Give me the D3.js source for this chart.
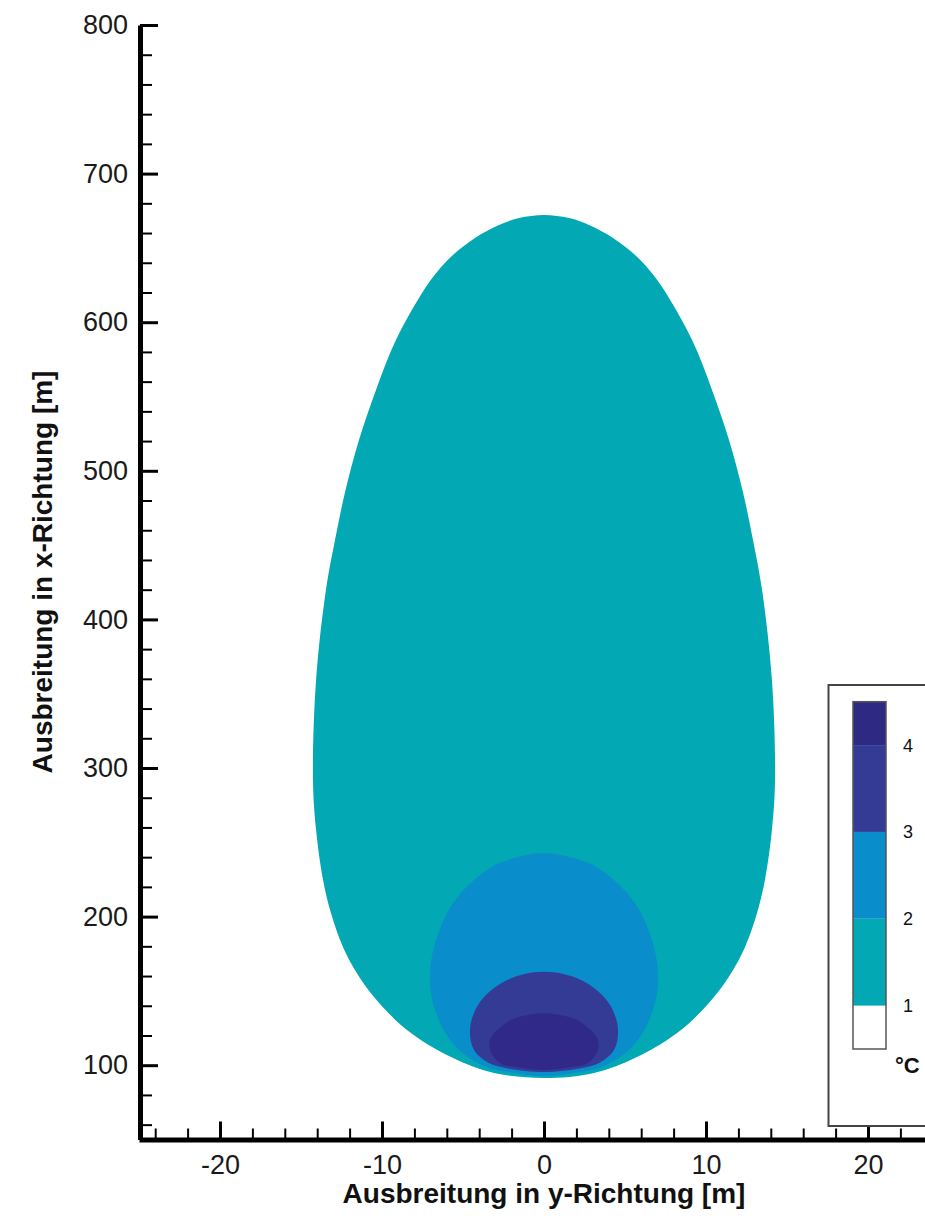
<!DOCTYPE html>
<html>
<head>
<meta charset="utf-8">
<script src="https://d3js.org/d3.v7.min.js"></script>
<style>
  body { margin: 0; background: #fff; }
  svg { display: block; font-family: "Liberation Sans", Arial, Helvetica, sans-serif; }
  .axis text { font-size: 27px; fill: #1a1a1a; }
  .axis .domain { stroke: #000; stroke-width: 5; }
  .axis .tick line { stroke: #000; stroke-width: 3; }
  .minor .tick line { stroke: #000; stroke-width: 2; }
  .minor .domain { display: none; }
</style>
</head>
<body>
<div id="chart"></div>
<script>
var svgWidth = 925;
var svgHeight = 1221;

// contour outlines: [distance along plume (x-Richtung) m, half width (y-Richtung) m]
var contour1 = [[91.4, 0], [94.8, 3.09], [105.5, 5.74], [123.7, 8.46], [145.9, 10.49],
  [164.1, 11.67], [179.5, 12.41], [202.4, 13.15], [224.7, 13.64], [258.4, 14.07],
  [292, 14.26], [359.2, 14.07], [419.8, 13.46], [453.5, 12.9], [487.1, 12.25],
  [520.7, 11.42], [554.4, 10.37], [588, 9.14], [621.7, 7.41], [633.8, 6.6],
  [645.2, 5.62], [656.7, 4.26], [665.4, 2.78], [670.1, 1.54], [672.2, 0]];
var contour2 = [[92.7, 0], [95.4, 2.16], [98.8, 3.58], [112.2, 5.43], [135.1, 6.67],
  [157.3, 7.04], [179.5, 6.79], [202.4, 5.99], [214.5, 5.22], [224.6, 4.32],
  [231.4, 3.52], [236.7, 2.59], [242.8, 0]];
var contour3 = [[95.4, 0], [98.1, 2.35], [101.5, 3.4], [110.2, 4.32], [123.7, 4.57],
  [139.4, 4.14], [151.95, 3.09], [160, 1.67], [162.9, 0]];
var contour4 = [[96.8, 0], [98.8, 1.73], [101.3, 2.69], [110.2, 3.33], [119.2, 3.24],
  [129.3, 2.22], [131.8, 1.73], [134.9, 0]];

var contourColors = ["#02a8b3", "#0a8dcb", "#333b95", "#30298a"];

// legend levels
var legendBreaks = [0.5, 1, 2, 3, 4, 4.5];
var legendColors = ["#ffffff", "#02a8b3", "#0a8dcb", "#333b95", "#2e2a84"];
var legendLabels = [1, 2, 3, 4];

// axis ticks
var xMajorTicks = [-20, -10, 0, 10, 20];
var xMinorTicks = d3.range(-24, 25, 2).filter(d => d % 10 !== 0);
var yMajorTicks = [100, 200, 300, 400, 500, 600, 700, 800];
var yMinorTicks = d3.range(60, 800, 20).filter(d => d % 100 !== 0);

var svg = d3.select("#chart")
  .append("svg")
  .attr("width", svgWidth)
  .attr("height", svgHeight);

var xScale = d3.scaleLinear().domain([-25, 25]).range([139, 949]);
var yScale = d3.scaleLinear().domain([50, 800]).range([1139.5, 25]);

// build closed outline from the right half and its mirror
var outline = d3.line()
  .x(d => xScale(d[0]))
  .y(d => yScale(d[1]))
  .curve(d3.curveCatmullRomClosed.alpha(0.5));

function contourPoints(c) {
  var right = c.map(p => [p[1], p[0]]);
  var left = c.slice(1, -1).reverse().map(p => [-p[1], p[0]]);
  return right.concat(left);
}

var contours = [contour1, contour2, contour3, contour4];
svg.append("g")
  .selectAll("path")
  .data(contours)
  .enter()
  .append("path")
  .attr("d", d => outline(contourPoints(d)))
  .attr("fill", (d, i) => contourColors[i]);

// minor ticks
svg.append("g")
  .attr("class", "axis minor")
  .attr("transform", `translate(0, ${yScale(50)})`)
  .call(d3.axisBottom(xScale).tickValues(xMinorTicks).tickSize(-11).tickFormat(""));

svg.append("g")
  .attr("class", "axis minor")
  .attr("transform", `translate(${xScale(-25) + 1}, 0)`)
  .call(d3.axisLeft(yScale).tickValues(yMinorTicks).tickSize(-12).tickFormat(""));

// major axes
svg.append("g")
  .attr("class", "axis")
  .attr("transform", `translate(0, ${yScale(50)})`)
  .call(d3.axisBottom(xScale).tickValues(xMajorTicks).tickSize(-18).tickSizeOuter(0)
    .tickPadding(15).tickFormat(d => String(d)));

svg.append("g")
  .attr("class", "axis")
  .attr("transform", `translate(${xScale(-25) + 1}, 0)`)
  .call(d3.axisLeft(yScale).tickValues(yMajorTicks).tickSize(-18).tickSizeOuter(0)
    .tickPadding(12).tickFormat(d => String(d)));

// axis titles
svg.append("text")
  .attr("x", xScale(0))
  .attr("y", 1203)
  .attr("text-anchor", "middle")
  .attr("font-size", "28px")
  .attr("font-weight", "bold")
  .attr("fill", "#111")
  .text("Ausbreitung in y-Richtung [m]");

svg.append("text")
  .attr("transform", "translate(52, 572) rotate(-90)")
  .attr("text-anchor", "middle")
  .attr("font-size", "28px")
  .attr("font-weight", "bold")
  .attr("fill", "#111")
  .text("Ausbreitung in x-Richtung [m]");

// legend
var legend = svg.append("g");
legend.append("rect")
  .attr("x", 828.5)
  .attr("y", 685)
  .attr("width", 200)
  .attr("height", 441)
  .attr("fill", "#fff")
  .attr("stroke", "#444")
  .attr("stroke-width", 2);

var lScale = d3.scaleLinear().domain([0.5, 4.5]).range([1049, 701.7]);
var barX = 853, barW = 33;

legend.selectAll("rect.seg")
  .data(legendColors)
  .enter()
  .append("rect")
  .attr("class", "seg")
  .attr("x", barX)
  .attr("width", barW)
  .attr("y", (d, i) => lScale(legendBreaks[i + 1]))
  .attr("height", (d, i) => lScale(legendBreaks[i]) - lScale(legendBreaks[i + 1]))
  .attr("fill", d => d);

legend.append("rect")
  .attr("x", barX)
  .attr("y", lScale(4.5))
  .attr("width", barW)
  .attr("height", lScale(0.5) - lScale(4.5))
  .attr("fill", "none")
  .attr("stroke", "#555")
  .attr("stroke-width", 1.5);

legend.selectAll("text.lab")
  .data(legendLabels)
  .enter()
  .append("text")
  .attr("class", "lab")
  .attr("x", 903)
  .attr("y", d => lScale(d))
  .attr("dy", "0.36em")
  .attr("font-size", "18px")
  .attr("fill", "#111")
  .text(d => d);

legend.append("text")
  .attr("x", 895)
  .attr("y", 1073)
  .attr("font-size", "22px")
  .attr("font-weight", "bold")
  .attr("fill", "#111")
  .text("°C");
</script>
</body>
</html>
